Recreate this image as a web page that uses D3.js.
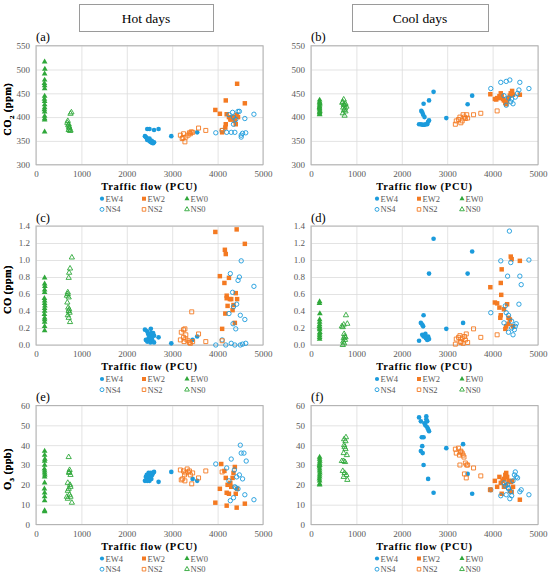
<!DOCTYPE html>
<html><head><meta charset="utf-8">
<script src="https://cdn.jsdelivr.net/npm/d3@7/dist/d3.min.js"></script>
<style>body{margin:0;background:#fff}svg{display:block}svg text{font-family:"Liberation Serif","Times New Roman",serif}</style>
</head><body>
<svg id="c" width="550" height="578"></svg>
<script>
// ---------- DATA ----------
const xTicks = [0, 1000, 2000, 3000, 4000, 5000];
const co2Ticks = [300, 350, 400, 450, 500, 550];
const coTicks = [0, 0.2, 0.4, 0.6, 0.8, 1.0, 1.2, 1.4];
const o3Ticks = [0, 10, 20, 30, 40, 50, 60];
const seriesNames = ["EW4", "EW2", "EW0", "NS4", "NS2", "NS0"];
const headers = ["Hot days", "Cool days"];
const panelLabels = ["(a)", "(b)", "(c)", "(d)", "(e)", "(f)"];

// (a) Hot days CO2 [traffic flow, ppm]
const hotCO2_EW4 = [[2450,375],[2500,375],[2600,373],[2700,375],[2400,360],[2420,358],[2440,356],[2460,354],[2480,352],[2500,350],[2520,348],[2540,347],[2560,346],[2580,345],[2600,347],[2450,352],[2500,355],[2550,350],[2980,360],[3550,368]];
const hotCO2_EW2 = [[3950,415],[4050,407],[4100,368],[4180,435],[4200,406],[4180,385],[4170,378],[4250,400],[4280,395],[4300,395],[4350,400],[4400,385],[4420,405],[4430,470],[4450,400],[4600,429],[4380,392]];
const hotCO2_EW0 = [[190,516],[195,501],[190,491],[190,478],[185,471],[190,466],[190,460],[190,444],[185,438],[190,433],[190,426],[190,420],[185,416],[190,411],[190,402],[190,397],[190,394],[190,369]];
const hotCO2_NS4 = [[3960,367],[4100,372],[4200,368],[4250,405],[4300,368],[4330,410],[4350,385],[4380,368],[4400,395],[4450,412],[4480,412],[4520,358],[4550,366],[4600,397],[4620,367],[4800,406],[4520,362],[4350,400]];
const hotCO2_NS2 = [[3180,362],[3220,355],[3240,357],[3250,365],[3280,348],[3300,358],[3350,362],[3380,367],[3400,365],[3420,369],[3450,368],[3580,377],[3740,372],[4100,372]];
const hotCO2_NS0 = [[780,410],[760,407],[700,392],[690,388],[720,385],[730,380],[740,376],[720,373],[750,371],[730,378],[710,383],[760,372]];

// (b) Cool days CO2
const coolCO2_EW4 = [[2380,385],[2420,385],[2450,384],[2480,384],[2500,384],[2530,385],[2560,385],[2600,393],[2580,390],[2430,413],[2450,410],[2470,405],[2500,400],[2480,428],[2600,435],[2700,453],[2980,398],[3450,427],[3550,445]];
const coolCO2_EW2 = [[3950,448],[4050,438],[4080,437],[4100,440],[4150,444],[4180,440],[4200,445],[4230,438],[4250,435],[4280,430],[4300,427],[4320,433],[4350,440],[4380,445],[4400,450],[4430,455],[4450,447],[4600,447],[4180,450]];
const coolCO2_EW0 = [[190,436],[190,432],[195,428],[190,425],[190,422],[185,420],[190,418],[190,415],[195,412],[190,410],[190,407],[190,405],[190,430]];
const coolCO2_NS4 = [[3960,460],[4180,473],[4300,475],[4380,478],[4600,473],[4800,460],[4250,445],[4350,440],[4400,432],[4450,428],[4500,442],[4550,450],[4580,457],[4300,425],[4420,438]];
const coolCO2_NS2 = [[3180,385],[3200,392],[3250,395],[3280,400],[3300,388],[3330,392],[3350,405],[3380,400],[3400,397],[3430,405],[3450,398],[3580,405],[3740,408],[4100,413]];
const coolCO2_NS0 = [[720,437],[700,432],[760,428],[740,425],[780,422],[710,420],[750,418],[730,415],[760,412],[700,408],[740,403],[720,426],[690,430]];

// (c) Hot days CO [ppm]
const hotCO_EW4 = [[2400,0.18],[2450,0.16],[2500,0.12],[2530,0.19],[2550,0.10],[2580,0.14],[2600,0.11],[2420,0.06],[2450,0.04],[2480,0.08],[2500,0.05],[2520,0.03],[2560,0.06],[2600,0.03],[2700,0.09],[2980,0.02],[3450,0.06],[3550,0.10],[2470,0.13],[2540,0.14]];
const hotCO_EW2 = [[3950,1.33],[4050,0.81],[4100,0.19],[4150,0.73],[4160,1.12],[4180,1.07],[4170,0.37],[4200,0.58],[4220,0.46],[4250,0.79],[4270,0.54],[4300,0.54],[4330,0.41],[4350,0.47],[4380,0.26],[4400,0.61],[4420,1.36],[4430,0.54],[4600,1.19],[4200,0.55]];
const hotCO_EW0 = [[190,0.79],[190,0.72],[195,0.69],[190,0.65],[190,0.62],[185,0.55],[190,0.52],[190,0.49],[195,0.46],[190,0.43],[190,0.40],[185,0.36],[190,0.32],[190,0.30],[190,0.27],[190,0.22],[190,0.17]];
const hotCO_NS4 = [[3960,0.0],[4100,0.06],[4180,0.0],[4250,0.37],[4280,0.84],[4300,0.02],[4330,0.62],[4350,0.45],[4380,0.0],[4400,0.19],[4420,0.48],[4450,0.76],[4480,0.80],[4500,0.0],[4500,0.35],[4520,0.99],[4550,0.01],[4600,0.30],[4620,0.02],[4800,0.69],[4340,0.25]];
const hotCO_NS2 = [[3180,0.06],[3200,0.15],[3250,0.18],[3280,0.19],[3250,0.09],[3300,0.12],[3260,0.04],[3350,0.05],[3380,0.03],[3400,0.02],[3430,0.39],[3450,0.04],[3580,0.13],[3740,0.04],[4100,0.05],[3300,0.07]];
const hotCO_NS0 = [[790,1.03],[750,0.90],[730,0.85],[720,0.79],[700,0.62],[680,0.58],[720,0.56],[690,0.50],[710,0.44],[720,0.40],[740,0.38],[700,0.35],[720,0.32],[750,0.27],[730,0.42],[700,0.60]];

// (d) Cool days CO
const coolCO_EW4 = [[2380,0.05],[2420,0.26],[2450,0.24],[2470,0.22],[2480,0.35],[2450,0.12],[2480,0.10],[2500,0.11],[2530,0.08],[2560,0.06],[2580,0.10],[2600,0.07],[2600,0.84],[2700,1.25],[2980,0.19],[3350,0.26],[3450,0.84],[3550,1.10],[2520,0.13]];
const coolCO_EW2 = [[3950,0.68],[4050,0.50],[4100,0.49],[4150,0.44],[4180,0.73],[4200,0.89],[4190,0.59],[4180,0.35],[4170,0.32],[4250,0.42],[4280,0.19],[4300,0.22],[4320,0.48],[4350,0.32],[4380,0.30],[4400,1.04],[4420,1.01],[4450,0.22],[4600,0.99],[4350,0.25]];
const coolCO_EW0 = [[190,0.51],[185,0.49],[195,0.37],[190,0.30],[190,0.27],[190,0.24],[185,0.22],[190,0.20],[190,0.18],[195,0.15],[190,0.13],[190,0.11],[190,0.09],[190,0.07]];
const coolCO_NS4 = [[3960,0.38],[4180,0.99],[4250,0.26],[4280,0.46],[4300,0.38],[4330,0.81],[4350,0.35],[4370,1.34],[4400,0.97],[4420,0.28],[4450,0.12],[4480,0.18],[4500,0.22],[4520,0.25],[4580,0.48],[4600,0.81],[4630,0.71],[4800,1.00],[4350,0.15],[4420,0.20]];
const coolCO_NS2 = [[3180,0.01],[3200,0.07],[3250,0.09],[3280,0.11],[3300,0.04],[3330,0.08],[3350,0.02],[3380,0.10],[3400,0.06],[3420,0.13],[3450,0.03],[3580,0.19],[3740,0.09],[4100,0.12],[3300,0.03]];
const coolCO_NS0 = [[770,0.35],[800,0.25],[720,0.24],[700,0.21],[680,0.22],[730,0.13],[740,0.10],[720,0.08],[750,0.06],[710,0.04],[730,0.02],[760,0.09],[700,0.0]];

// (e) Hot days O3 [ppb]
const hotO3_EW4 = [[2400,22],[2420,24],[2440,25],[2460,23],[2480,26],[2500,22],[2500,25],[2520,24],[2540,23],[2560,25],[2580,26],[2600,26.5],[2450,22],[2700,21.5],[2980,26.5],[3450,23],[3550,22],[2530,26]];
const hotO3_EW2 = [[3950,11],[4050,18],[4080,30.5],[4150,27],[4180,23.5],[4200,9.5],[4200,16],[4220,20],[4250,15.5],[4280,21],[4300,19],[4330,23.5],[4350,26],[4380,29],[4400,15.5],[4420,8.5],[4430,18],[4600,10.5]];
const hotO3_EW0 = [[190,37],[190,35],[195,33],[190,32],[190,30],[185,28],[190,27],[190,26],[195,25],[190,24],[190,21],[185,18],[190,16],[190,14],[190,12],[190,7],[190,6.5]];
const hotO3_NS4 = [[3960,30.5],[4200,28.5],[4250,22],[4280,12],[4300,33],[4350,13.5],[4370,27.5],[4380,19],[4400,18.5],[4420,24],[4450,18],[4480,25],[4500,40],[4520,36],[4550,23],[4580,36],[4600,15],[4630,32],[4800,12.5]];
const hotO3_NS2 = [[3180,27.5],[3200,22.5],[3230,23],[3250,27],[3270,25],[3280,22],[3300,26],[3330,28],[3350,26.5],[3380,27],[3400,25],[3430,20.5],[3450,26],[3580,23.5],[3740,27],[4100,26.5]];
const hotO3_NS0 = [[720,34],[740,27.5],[730,26],[760,25],[700,21],[750,20],[760,19],[720,18],[700,17],[680,14],[700,13],[740,15],[760,14],[790,11],[730,26.5]];

// (f) Cool days O3
const coolO3_EW4 = [[2380,54],[2420,52],[2440,44],[2450,39.5],[2420,37],[2460,36],[2480,44],[2480,30],[2500,51],[2520,50],[2540,54.5],[2560,52],[2560,49],[2580,48],[2600,47],[2580,23],[2700,16],[2980,38.5],[3350,40.5],[3450,25.5],[3550,15.5],[2540,53]];
const coolO3_EW2 = [[3950,17.5],[4050,22],[4100,19],[4150,24],[4180,21],[4200,15.5],[4220,22],[4250,19],[4280,25],[4300,26],[4320,24],[4350,22],[4380,17],[4400,21.5],[4420,16.5],[4430,22],[4450,19],[4600,12.5],[4300,20],[4250,23]];
const coolO3_EW0 = [[190,34],[190,33],[195,32],[190,31],[190,30],[185,29],[190,28],[190,27],[195,26],[190,25],[190,24],[185,23],[190,22],[190,20],[190,20.5],[190,30]];
const coolO3_NS4 = [[3960,17.5],[4180,14.5],[4250,21],[4280,19.5],[4300,15],[4330,20],[4350,18],[4380,13],[4400,16.5],[4420,14.5],[4450,22],[4480,25],[4500,26.5],[4520,24],[4550,23.5],[4600,16.5],[4630,17.5],[4800,15],[4350,18.5]];
const coolO3_NS2 = [[3180,38],[3200,36],[3250,38.5],[3270,35],[3280,30],[3300,37],[3330,36],[3350,35],[3370,34],[3380,25.5],[3400,31],[3420,23.5],[3430,30],[3450,30],[3580,28.5],[3740,24.5],[3950,17.5],[3300,36.5]];
const coolO3_NS0 = [[770,44],[760,42],[730,40],[740,39],[760,38],[720,36],[790,35],[680,32],[720,32],[750,31.5],[700,27],[740,26],[780,25],[720,24],[800,22.5],[730,43]];

// ---------- CHART ----------
const colors = {EW4:"#1b9bdc", NS4:"#1b9bdc", EW2:"#f47a22", NS2:"#f47a22", EW0:"#2fa83a", NS0:"#2fa83a"};
const shapes = {EW4:d3.symbolCircle, NS4:d3.symbolCircle, EW2:d3.symbolSquare, NS2:d3.symbolSquare, EW0:d3.symbolTriangle, NS0:d3.symbolTriangle};
const filled = {EW4:true, EW2:true, EW0:true, NS4:false, NS2:false, NS0:false};
const sizes = {EW4:17, NS4:15, EW2:20, NS2:16, EW0:14, NS0:12};

const panels = [
  {lab:panelLabels[0], col:0, row:0, yt:co2Ticks, ytitle:["CO","2"," (ppm)"], fmt:d3.format("d"), data:[hotCO2_EW4,hotCO2_EW2,hotCO2_EW0,hotCO2_NS4,hotCO2_NS2,hotCO2_NS0]},
  {lab:panelLabels[1], col:1, row:0, yt:co2Ticks, ytitle:["CO","2"," (ppm)"], fmt:d3.format("d"), data:[coolCO2_EW4,coolCO2_EW2,coolCO2_EW0,coolCO2_NS4,coolCO2_NS2,coolCO2_NS0]},
  {lab:panelLabels[2], col:0, row:1, yt:coTicks, ytitle:["CO (ppm)"], fmt:d3.format(".1f"), data:[hotCO_EW4,hotCO_EW2,hotCO_EW0,hotCO_NS4,hotCO_NS2,hotCO_NS0]},
  {lab:panelLabels[3], col:1, row:1, yt:coTicks, ytitle:["CO (ppm)"], fmt:d3.format(".1f"), data:[coolCO_EW4,coolCO_EW2,coolCO_EW0,coolCO_NS4,coolCO_NS2,coolCO_NS0]},
  {lab:panelLabels[4], col:0, row:2, yt:o3Ticks, ytitle:["O","3"," (ppb)"], fmt:d3.format("d"), data:[hotO3_EW4,hotO3_EW2,hotO3_EW0,hotO3_NS4,hotO3_NS2,hotO3_NS0]},
  {lab:panelLabels[5], col:1, row:2, yt:o3Ticks, ytitle:["O","3"," (ppb)"], fmt:d3.format("d"), data:[coolO3_EW4,coolO3_EW2,coolO3_EW0,coolO3_NS4,coolO3_NS2,coolO3_NS0]}
];

const svg = d3.select("#c");
const FONT = "Liberation Serif";
const colX = [36, 311], W = 227;
const rowY = [45.7, 226, 405.5], H = 119;

// header boxes
const hdr = [{x:79, w:134}, {x:352, w:136}];
hdr.forEach((h,i) => {
  svg.append("rect").attr("x", h.x+0.5).attr("y", 4.5).attr("width", h.w).attr("height", 27)
    .attr("fill", "#fff").attr("stroke", "#9a9a9a").attr("stroke-width", 1);
  svg.append("text").attr("x", h.x + h.w/2).attr("y", 22.5).attr("text-anchor", "middle")
    .attr("font-family", FONT).attr("font-size", 13.5).attr("fill", "#000").text(headers[i]);
});

panels.forEach(p => {
  const x0 = colX[p.col], y0 = rowY[p.row];
  const g = svg.append("g").attr("transform", `translate(${x0},${y0})`);
  const xs = d3.scaleLinear().domain([0, 5000]).range([0, W]);
  const ys = d3.scaleLinear().domain([p.yt[0], p.yt[p.yt.length-1]]).range([H, 0]);

  // grid
  g.append("g").call(d3.axisLeft(ys).tickValues(p.yt).tickSize(-W).tickFormat(""))
    .call(a => { a.select(".domain").remove(); a.selectAll("line").attr("stroke", "#dcdcdc").attr("stroke-width", 0.8); });
  g.append("g").attr("transform", `translate(0,${H})`).call(d3.axisBottom(xs).tickValues(xTicks).tickSize(-H).tickFormat(""))
    .call(a => { a.select(".domain").remove(); a.selectAll("line").attr("stroke", "#dcdcdc").attr("stroke-width", 0.8); });
  // border
  g.append("rect").attr("x", 0).attr("y", 0).attr("width", W).attr("height", H)
    .attr("fill", "none").attr("stroke", "#b4b4b4").attr("stroke-width", 1);

  // tick labels
  const yAx = g.append("g").attr("font-family", FONT).call(d3.axisLeft(ys).tickValues(p.yt).tickSize(0).tickPadding(6).tickFormat(p.fmt));
  yAx.attr("font-family", FONT);
  yAx.select(".domain").remove();
  yAx.selectAll("text").attr("font-family", FONT).attr("font-size", 9).attr("fill", "#595959");
  const xAx = g.append("g").attr("transform", `translate(0,${H})`)
    .call(d3.axisBottom(xs).tickValues(xTicks).tickSize(0).tickPadding(6).tickFormat(d3.format("d")));
  xAx.attr("font-family", FONT);
  xAx.select(".domain").remove();
  xAx.selectAll("text").attr("font-family", FONT).attr("font-size", 9).attr("fill", "#595959");

  // axis titles
  g.append("text").attr("x", W/2).attr("y", H + 25).attr("text-anchor", "middle")
    .attr("font-family", FONT).attr("font-size", 10.5).attr("font-weight", "bold").attr("letter-spacing", 0.7)
    .text("Traffic flow (PCU)");
  const yt = g.append("text").attr("transform", `translate(${-x0 + 11},${H/2 + 4}) rotate(-90)`)
    .attr("text-anchor", "middle").attr("font-family", FONT).attr("font-size", 10.5).attr("font-weight", "bold").attr("letter-spacing", 0.4);
  if (p.ytitle.length === 1) yt.text(p.ytitle[0]);
  else {
    yt.append("tspan").text(p.ytitle[0]);
    yt.append("tspan").attr("font-size", 7).attr("dy", 2.5).text(p.ytitle[1]);
    yt.append("tspan").attr("dy", -2.5).text(p.ytitle[2]);
  }

  // panel label
  g.append("text").attr("x", 0).attr("y", -4.5).attr("font-family", FONT).attr("font-size", 12.5).text(p.lab);

  // points
  p.data.forEach((arr, si) => {
    const nm = seriesNames[si];
    const sym = d3.symbol().type(shapes[nm]).size(sizes[nm]);
    g.append("g").selectAll("path").data(arr).join("path")
      .attr("d", sym)
      .attr("transform", d => `translate(${xs(d[0])},${ys(d[1])})`)
      .attr("fill", filled[nm] ? colors[nm] : "none")
      .attr("stroke", filled[nm] ? "none" : colors[nm])
      .attr("stroke-width", 0.9);
  });

  // legend
  const lx = [66, 108, 151];
  seriesNames.forEach((nm, i) => {
    const cx = lx[i % 3], cy = H + 34 + Math.floor(i / 3) * 10.7;
    const sym = d3.symbol().type(shapes[nm]).size(sizes[nm] * 0.8);
    g.append("path").attr("d", sym).attr("transform", `translate(${cx},${cy})`)
      .attr("fill", filled[nm] ? colors[nm] : "none")
      .attr("stroke", filled[nm] ? "none" : colors[nm]).attr("stroke-width", 0.9);
    g.append("text").attr("x", cx + 3.5).attr("y", cy + 3).attr("font-family", FONT).attr("font-size", 8.5)
      .attr("fill", "#595959").text(nm);
  });
});
</script>
</body></html>
